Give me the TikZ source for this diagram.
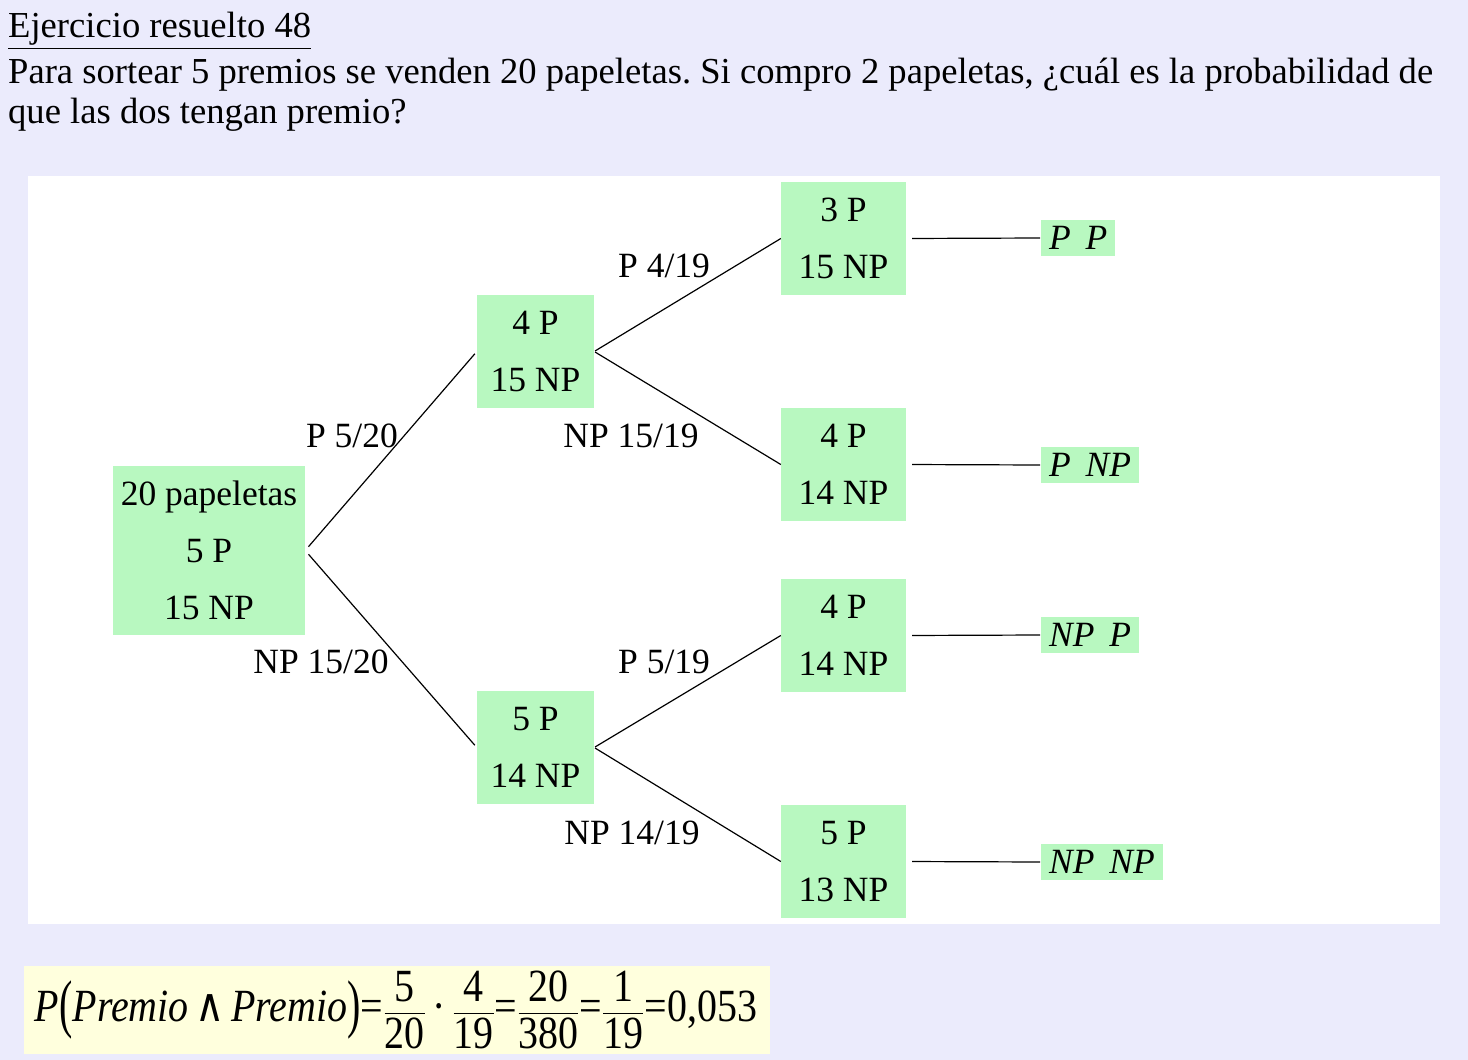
\documentclass[tikz,border=0pt]{standalone}
\usepackage{amsmath}
\usepackage{graphicx}
\usepackage{fontspec}
\setmainfont{Liberation Serif}
\newfontfamily\symbolfont{DejaVu Serif}
\usepackage{tikz}
\definecolor{page}{RGB}{235,235,252}
\definecolor{box}{RGB}{184,248,192}
\definecolor{result}{RGB}{255,255,221}
\frenchspacing
\newcommand{\numfrac}[2]{\dfrac{\text{#1}}{\text{#2}}}
\newcommand{\eqs}{\text{=}}
\newcommand{\bigparen}[1]{\text{\raisebox{-4pt}{\scalebox{1}[1.4]{#1}}}}

\begin{document}
\begin{tikzpicture}[x=1pt,y=-1pt,
        every node/.style={font=\fontsize{35.5}{42}\selectfont},
        heading/.style={anchor=base west,inner sep=0pt,font=\fontsize{36.6}{42}\selectfont},
        state/.style={fill=box,align=center,inner sep=0pt,
            minimum height=113pt,font=\fontsize{35.5}{57}\selectfont},
        leaf/.style={fill=box,inner xsep=8pt,inner ysep=0pt,minimum height=36pt,
            anchor=west,font=\fontsize{35.5}{42}\selectfont\itshape},
        prob/.style={inner sep=0pt},
        branch/.style={line width=1.2pt}]
        \useasboundingbox (0,0) rectangle (1468,1060);
        \fill[page] (0,0) rectangle (1468,1060);
        \fill[white] (28,176) rectangle (1440,924);

        \node[heading] (title) at (8,37) {\underline{Ejercicio resuelto 48}};
        \node[heading] (line1) at (8,83)
            {Para sortear 5 premios se venden 20 papeletas. Si compro 2 papeletas, ¿cuál es la probabilidad de};
        \node[heading] (line2) at (8,123) {que las dos tengan premio?};

        \node[state,minimum width=192pt,minimum height=169pt] (root) at (209,550.5)
            {20 papeletas\\5 P\\15 NP};
        \node[state,minimum width=117pt] (p) at (535.5,351.5) {4 P\\15 NP};
        \node[state,minimum width=117pt] (np) at (535.5,747.5) {5 P\\14 NP};
        \node[state,minimum width=125pt] (pp) at (843.5,238.5) {3 P\\15 NP};
        \node[state,minimum width=125pt] (pnp) at (843.5,464.5) {4 P\\14 NP};
        \node[state,minimum width=125pt] (npp) at (843.5,635.5) {4 P\\14 NP};
        \node[state,minimum width=125pt] (npnp) at (843.5,861.5) {5 P\\13 NP};

        \node[leaf] (l1) at (1041,238) {P\, P};
        \node[leaf] (l2) at (1041,465) {P\, NP};
        \node[leaf] (l3) at (1041,635) {NP\, P};
        \node[leaf] (l4) at (1041,862) {NP\, NP};

        \draw[branch,shorten <=5pt,shorten >=3pt] (root.east) -- (p.west);
        \draw[branch,shorten <=5pt,shorten >=3pt] (root.east) -- (np.west);
        \draw[branch,shorten <=1pt] (p.east) -- (pp.west);
        \draw[branch,shorten <=1pt] (p.east) -- (pnp.west);
        \draw[branch,shorten <=1pt] (np.east) -- (npp.west);
        \draw[branch,shorten <=1pt] (np.east) -- (npnp.west);
        \draw[branch,shorten <=6pt,shorten >=1pt] (pp.east) -- (l1.west);
        \draw[branch,shorten <=6pt,shorten >=1pt] (pnp.east) -- (l2.west);
        \draw[branch,shorten <=6pt,shorten >=1pt] (npp.east) -- (l3.west);
        \draw[branch,shorten <=6pt,shorten >=1pt] (npnp.east) -- (l4.west);

        \node[prob] at (352,436) {P 5/20};
        \node[prob] at (321,662) {NP 15/20};
        \node[prob] at (664,266) {P 4/19};
        \node[prob] at (631,436) {NP 15/19};
        \node[prob] at (664,662) {P 5/19};
        \node[prob] at (632,833) {NP 14/19};

        \fill[result] (24,966) rectangle (770,1054);
        \node[inner sep=0pt,font=\fontsize{40}{48}\selectfont] (formula) at (396,1010)
            {\resizebox*{722pt}{78pt}{$\textit{P}\bigparen{(}\textit{Premio}\text{\,\symbolfont ∧\,}\textit{Premio}\bigparen{)}\eqs\numfrac{5}{20}\text{\,·\,}\numfrac{4}{19}
            \eqs\numfrac{20}{380}\eqs\numfrac{1}{19}\eqs\text{0,053}$}};
    \end{tikzpicture}
\end{document}
